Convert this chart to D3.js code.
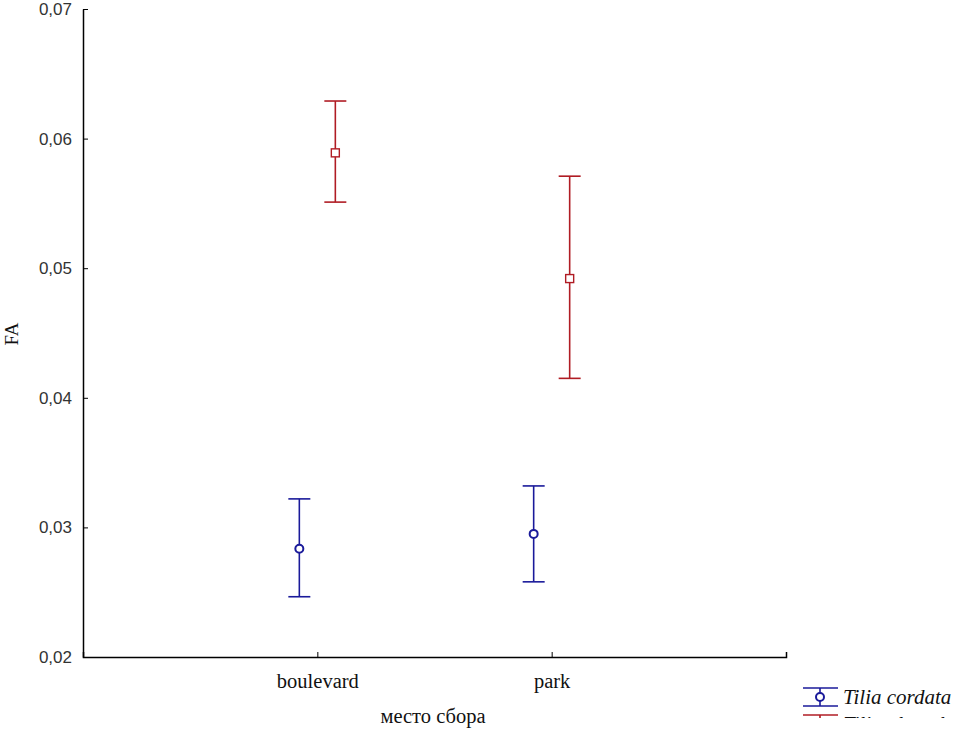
<!DOCTYPE html>
<html><head><meta charset="utf-8">
<script src="https://cdn.jsdelivr.net/npm/d3@7/dist/d3.min.js"></script>
<style>body{margin:0;background:#fff}</style>
</head><body>
<script>
const categories = ["boulevard", "park"];
const seriesNames = ["Tilia cordata", "Tilia platyphyllos"];
const cordataMean = [0.02835, 0.0295];
const cordataLow = [0.02465, 0.0258];
const cordataHigh = [0.0322, 0.0332];
const platyMean = [0.0589, 0.0492];
const platyLow = [0.0551, 0.0415];
const platyHigh = [0.0629, 0.0571];
const yTicks = [0.02, 0.03, 0.04, 0.05, 0.06, 0.07];
const colors = ["#1a1a9a", "#b01c24"];

const W = 956, H = 732;
const m = {left: 83, right: 170, top: 9, bottom: 75};
const svg = d3.select("body").append("svg").attr("width", W).attr("height", H);

const x = d3.scalePoint().domain(categories).range([m.left, W - m.right]).padding(1);
const y = d3.scaleLinear().domain([0.02, 0.07]).range([H - m.bottom, m.top]);

const fmt = d => d3.format(".2f")(d).replace(".", ",");

// Y axis
const ya = svg.append("g").attr("transform", `translate(${m.left},0)`)
  .call(d3.axisLeft(y).tickValues(yTicks).tickSizeInner(-5).tickSizeOuter(0).tickFormat(fmt));
ya.select(".domain").attr("stroke", "#000").attr("stroke-width", 1.5);
ya.selectAll(".tick line").attr("stroke", "#000");
ya.selectAll(".tick text").attr("x", -11).attr("fill", "#333")
  .style("font-family", "'Liberation Sans', Arial, sans-serif").style("font-size", "17px");

// X axis
const xa = svg.append("g").attr("transform", `translate(0,${H - m.bottom})`)
  .call(d3.axisBottom(x).tickSizeInner(-5).tickSizeOuter(-5));
xa.select(".domain").attr("stroke", "#000").attr("stroke-width", 1.5);
xa.selectAll(".tick line").attr("stroke", "#000");
xa.selectAll(".tick text").attr("y", 16).attr("fill", "#111")
  .style("font-family", "'Liberation Serif', 'Times New Roman', serif").style("font-size", "20.5px");

// axis titles
svg.append("text").attr("x", 433).attr("y", 723)
  .attr("text-anchor", "middle").attr("fill", "#111")
  .style("font-family", "'Liberation Serif', serif").style("font-size", "20.5px").text("место сбора");
svg.append("text").attr("transform", `translate(18,334) rotate(-90)`)
  .attr("text-anchor", "middle").attr("fill", "#111")
  .style("font-family", "'Liberation Serif', serif").style("font-size", "19px").text("FA");

const series = [
  {name: seriesNames[0], mean: cordataMean, lo: cordataLow, hi: cordataHigh, dx: -18, shape: "circle"},
  {name: seriesNames[1], mean: platyMean, lo: platyLow, hi: platyHigh, dx: 18, shape: "square"}
];
const capW = 11;
series.forEach((s, si) => {
  const g = svg.append("g").attr("stroke", colors[si]).attr("stroke-width", 1.6).attr("fill", "none");
  categories.forEach((c, i) => {
    const cx = x(c) + s.dx;
    g.append("line").attr("x1", cx).attr("x2", cx).attr("y1", y(s.hi[i])).attr("y2", y(s.lo[i]));
    g.append("line").attr("x1", cx - capW).attr("x2", cx + capW).attr("y1", y(s.hi[i])).attr("y2", y(s.hi[i]));
    g.append("line").attr("x1", cx - capW).attr("x2", cx + capW).attr("y1", y(s.lo[i])).attr("y2", y(s.lo[i]));
    if (s.shape === "circle") {
      g.append("circle").attr("cx", cx).attr("cy", y(s.mean[i])).attr("r", 4).attr("fill", "#fff").attr("stroke-width", 2);
    } else {
      g.append("rect").attr("x", cx - 4).attr("y", y(s.mean[i]) - 4).attr("width", 8).attr("height", 8).attr("fill", "#fff").attr("stroke-width", 1.4);
    }
  });
});

// legend (cut off at bottom, as in the reference)
svg.append("clipPath").attr("id", "lc").append("rect").attr("x", 790).attr("y", 670).attr("width", 170).attr("height", 48);
const lg = svg.append("g").attr("clip-path", "url(#lc)");
series.forEach((s, si) => {
  const ly = 697 + si * 27;
  const g = lg.append("g").attr("stroke", colors[si]).attr("stroke-width", 1.6).attr("fill", "none");
  g.append("line").attr("x1", 803).attr("x2", 838).attr("y1", ly - 9).attr("y2", ly - 9);
  g.append("line").attr("x1", 803).attr("x2", 838).attr("y1", ly + 9).attr("y2", ly + 9);
  g.append("line").attr("x1", 820).attr("x2", 820).attr("y1", ly - 9).attr("y2", ly + 9);
  if (s.shape === "circle") g.append("circle").attr("cx", 820).attr("cy", ly).attr("r", 4).attr("fill", "#fff").attr("stroke-width", 2);
  else g.append("rect").attr("x", 816).attr("y", ly - 4).attr("width", 8).attr("height", 8).attr("fill", "#fff");
  lg.append("text").attr("x", 843).attr("y", ly + 7).attr("fill", "#111")
    .style("font-family", "'Liberation Serif', serif").style("font-style", "italic").style("font-size", "21px").text(s.name);
});
</script>
</body></html>
